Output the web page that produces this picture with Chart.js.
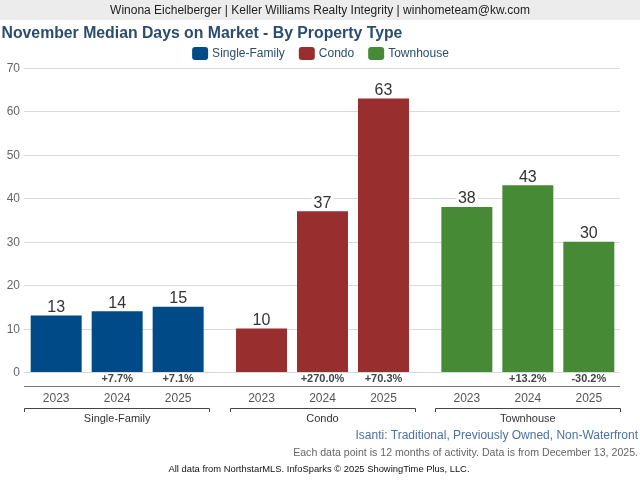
<!DOCTYPE html>
<html>
<head>
<meta charset="utf-8">
<title>November Median Days on Market - By Property Type</title>
<script src="https://cdn.jsdelivr.net/npm/chart.js@4.4.1/dist/chart.umd.min.js"></script>
<style>
    html, body { margin: 0; padding: 0; background: #ffffff; }
    #wrap { position: relative; width: 640px; height: 480px; }
</style>
</head>
<body>
<div id="wrap"><canvas id="domChart"></canvas></div>
<script>
// ข้อมูลกราฟ
const propertyTypes = ['Single-Family', 'Condo', 'Townhouse'];
const years = ['2023', '2024', '2025'];
const singleFamily = [13, 14, 15];
const condo = [10, 37, 63];
const townhouse = [38, 43, 30];
const singleFamilyChange = ['', '+7.7%', '+7.1%'];
const condoChange = ['', '+270.0%', '+70.3%'];
const townhouseChange = ['', '+13.2%', '-30.2%'];
const yMax = 70;
const yStep = 10;

const titleText = 'November Median Days on Market - By Property Type';
const bannerText = 'Winona Eichelberger | Keller Williams Realty Integrity | winhometeam@kw.com';
const areaText = 'Isanti: Traditional, Previously Owned, Non-Waterfront';
const noteText = 'Each data point is 12 months of activity. Data is from December 13, 2025.';
const sourceText = 'All data from NorthstarMLS. InfoSparks \u00a9 2025 ShowingTime Plus, LLC.';

const typeColors = ['#004b87', '#992e2f', '#468a36'];
const fontFamily = '"Liberation Sans", Arial, sans-serif';

const valuesByType = [singleFamily, condo, townhouse];
const changeByType = [singleFamilyChange, condoChange, townhouseChange];

// วาดรูปสี่เหลี่ยมมุมมน
function roundRect(ctx, x, y, w, h, r) {
    ctx.beginPath();
    ctx.moveTo(x + r, y);
    ctx.arcTo(x + w, y, x + w, y + h, r);
    ctx.arcTo(x + w, y + h, x, y + h, r);
    ctx.arcTo(x, y + h, x, y, r);
    ctx.arcTo(x, y, x + w, y, r);
    ctx.closePath();
}

// แถบด้านบน หัวเรื่อง คำอธิบาย และเส้นตาราง
const framePlugin = {
    id: 'frame',
    beforeDatasetsDraw(chart) {
        const ctx = chart.ctx;
        const area = chart.chartArea;
        const yScale = chart.scales.y;
        const gridLeft = area.left + 9.5;
        const gridRight = area.right - 10.5;
        ctx.save();

        // แถบชื่อผู้จัดทำ
        ctx.fillStyle = '#ececec';
        ctx.fillRect(0, 0, chart.width, 20);
        ctx.fillStyle = '#222222';
        ctx.font = '12px ' + fontFamily;
        ctx.textAlign = 'center';
        ctx.textBaseline = 'middle';
        ctx.fillText(bannerText, chart.width / 2, 10.5);

        // หัวเรื่อง
        ctx.fillStyle = '#2b4c6f';
        ctx.font = 'bold 15.8px ' + fontFamily;
        ctx.textAlign = 'left';
        ctx.fillText(titleText, 1.5, 33.5);

        // คำอธิบายสี
        ctx.font = '12px ' + fontFamily;
        const boxW = 16, boxH = 13, gap = 4, spacing = 14;
        const widths = propertyTypes.map(t => boxW + gap + ctx.measureText(t).width);
        const total = widths.reduce((a, b) => a + b, 0) + spacing * (widths.length - 1);
        let lx = chart.width / 2 - total / 2 + 0.5;
        propertyTypes.forEach((t, i) => {
            ctx.fillStyle = typeColors[i];
            roundRect(ctx, lx, 47, boxW, boxH, 3);
            ctx.fill();
            ctx.fillStyle = '#2b4c6f';
            ctx.fillText(t, lx + boxW + gap, 53.5);
            lx += widths[i] + spacing;
        });

        // เส้นตารางและป้ายแกน y
        ctx.strokeStyle = '#d9d9d9';
        ctx.lineWidth = 1;
        ctx.font = '12px ' + fontFamily;
        ctx.fillStyle = '#666666';
        ctx.textAlign = 'right';
        yScale.ticks.forEach(t => {
            const py = Math.round(yScale.getPixelForValue(t.value)) + 0.5;
            ctx.beginPath();
            ctx.moveTo(gridLeft, py);
            ctx.lineTo(gridRight, py);
            ctx.stroke();
            ctx.fillText(String(t.value), gridLeft - 4, py);
        });
        ctx.restore();
    },
    afterDatasetsDraw(chart) {
        const ctx = chart.ctx;
        const area = chart.chartArea;
        const xScale = chart.scales.x;
        const gridLeft = area.left + 9.5;
        const gridRight = area.right - 10.5;
        ctx.save();

        // เส้นใต้ป้ายเปอร์เซ็นต์
        ctx.strokeStyle = '#777777';
        ctx.lineWidth = 1;
        ctx.beginPath();
        ctx.moveTo(gridLeft, 386.5);
        ctx.lineTo(gridRight, 386.5);
        ctx.stroke();

        years.forEach((yr, j) => {
            const meta = chart.getDatasetMeta(j);
            meta.data.forEach((bar, i) => {
                const value = valuesByType[i][j];
                // ค่าบนแท่ง
                ctx.font = '16px ' + fontFamily;
                const label = String(value);
                const w = ctx.measureText(label).width;
                ctx.fillStyle = '#ffffff';
                ctx.fillRect(bar.x - w / 2 - 2, bar.y - 18, w + 4, 16);
                ctx.fillStyle = '#333333';
                ctx.textAlign = 'center';
                ctx.textBaseline = 'alphabetic';
                ctx.fillText(label, bar.x, bar.y - 3.5);

                // เปอร์เซ็นต์การเปลี่ยนแปลง
                const change = changeByType[i][j];
                if (change) {
                    ctx.font = 'bold 11px ' + fontFamily;
                    ctx.fillStyle = '#444444';
                    ctx.textBaseline = 'middle';
                    ctx.fillText(change, bar.x, 379);
                }

                // ปี
                ctx.font = '12px ' + fontFamily;
                ctx.fillStyle = '#555555';
                ctx.textBaseline = 'middle';
                ctx.fillText(yr, bar.x, 398.5);
            });
        });

        // วงเล็บกลุ่มประเภททรัพย์
        propertyTypes.forEach((name, i) => {
            const cx = xScale.getPixelForValue(i);
            const half = 93;
            ctx.strokeStyle = '#444444';
            ctx.lineWidth = 1;
            ctx.beginPath();
            ctx.moveTo(Math.round(cx - half) + 0.5, 412);
            ctx.lineTo(Math.round(cx - half) + 0.5, 408.5);
            ctx.lineTo(Math.round(cx + half) - 0.5, 408.5);
            ctx.lineTo(Math.round(cx + half) - 0.5, 412);
            ctx.stroke();
            ctx.font = '11px ' + fontFamily;
            ctx.fillStyle = '#333333';
            ctx.textAlign = 'center';
            ctx.textBaseline = 'middle';
            ctx.fillText(name, cx, 418.5);
        });

        // ข้อความท้ายกราฟ
        ctx.textAlign = 'right';
        ctx.textBaseline = 'middle';
        ctx.font = '12px ' + fontFamily;
        ctx.fillStyle = '#4a70a6';
        ctx.fillText(areaText, chart.width - 2, 436);
        ctx.font = '10.6px ' + fontFamily;
        ctx.fillStyle = '#666666';
        ctx.fillText(noteText, chart.width - 2, 453);
        ctx.textAlign = 'center';
        ctx.font = '9.4px ' + fontFamily;
        ctx.fillStyle = '#111111';
        ctx.fillText(sourceText, 319, 469);
        ctx.restore();
    }
};

function createDaysOnMarketChart() {
    const ctx = document.getElementById('domChart');
    if (!ctx) return;

    new Chart(ctx, {
        type: 'bar',
        data: {
            labels: propertyTypes,
            datasets: years.map((yr, j) => ({
                label: yr,
                data: valuesByType.map(arr => arr[j]),
                backgroundColor: typeColors,
                borderWidth: 0,
                categoryPercentage: 0.891,
                barPercentage: 0.836
            }))
        },
        options: {
            responsive: true,
            maintainAspectRatio: false,
            animation: false,
            layout: {
                padding: { top: 68, left: 0, right: 9.5, bottom: 108 }
            },
            plugins: {
                title: { display: false },
                legend: { display: false },
                tooltip: { enabled: false }
            },
            scales: {
                x: {
                    display: false
                },
                y: {
                    min: 0,
                    max: yMax,
                    ticks: {
                        stepSize: yStep,
                        display: false
                    },
                    grid: { display: false },
                    border: { display: false },
                    afterFit: function(scale) {
                        scale.width = 14.5;
                    }
                }
            }
        },
        plugins: [framePlugin]
    });
}

createDaysOnMarketChart();
</script>
</body>
</html>
